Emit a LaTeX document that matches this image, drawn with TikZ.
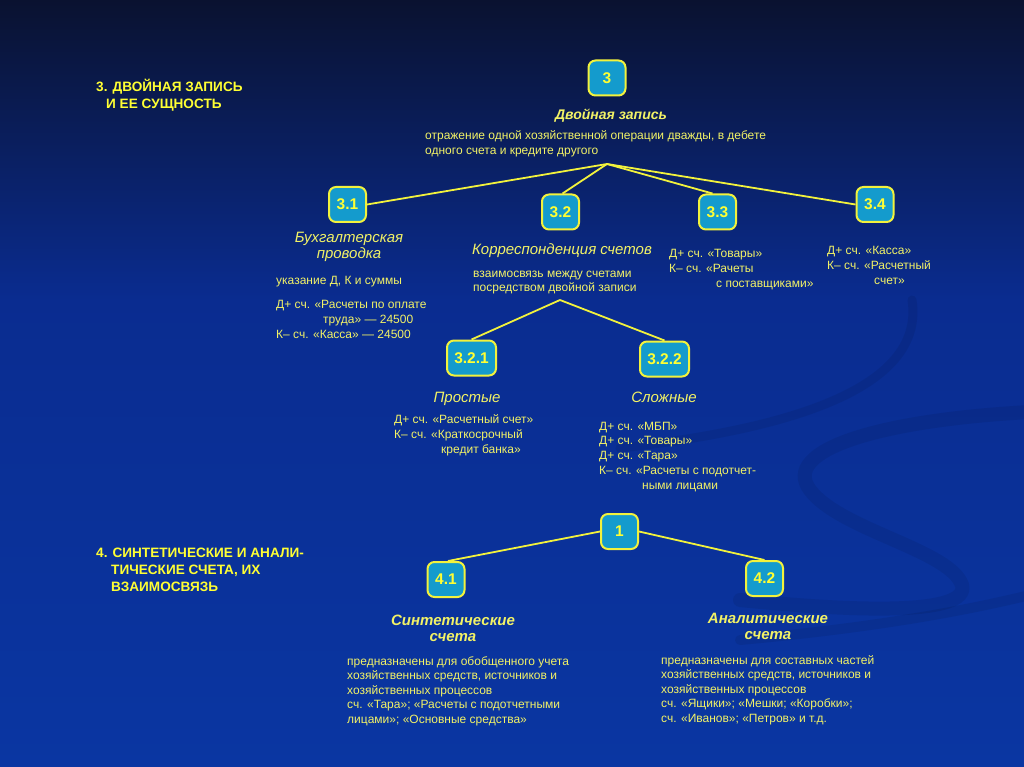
\documentclass[tikz,border=0pt]{standalone}
\usepackage{fontspec}
\setmainfont{Liberation Sans}
\definecolor{bgtop}{HTML}{0A1230}
\definecolor{bgmid}{HTML}{0A2C90}
\definecolor{bgbot}{HTML}{0A36A2}
\definecolor{boxfill}{HTML}{149BCD}
\definecolor{boxline}{HTML}{F2F23C}
\definecolor{ytitle}{HTML}{FFFF33}
\definecolor{ytext}{HTML}{F2F266}
\tikzset{
 numbox/.style={draw=boxline, fill=boxfill, line width=2pt, rounded corners=7pt, minimum width=37pt, minimum height=35pt, inner sep=0pt, text=ytitle, font=\fontsize{15.5}{15.5}\selectfont\bfseries},
 widebox/.style={numbox, minimum width=49pt},
 body/.style={anchor=base west, inner sep=0pt, text=ytext, align=left, font=\fontsize{12}{15}\selectfont},
 bodyb/.style={body, font=\fontsize{12}{14.5}\selectfont},
 head/.style={anchor=base, inner sep=0pt, text=ytext, align=center, font=\fontsize{15}{16.5}\selectfont\itshape},
 bhead/.style={head, font=\fontsize{15}{16}\selectfont\bfseries\itshape},
 title/.style={anchor=base west, inner sep=0pt, text=ytitle, align=left, font=\fontsize{13.6}{17}\selectfont\bfseries},
 link/.style={draw=boxline, line width=1.8pt},
 swoosh/.style={draw=black, opacity=0.07, line cap=round},
}
\begin{document}
\begin{tikzpicture}[x=1pt,y=-1pt]
\useasboundingbox (0,0) rectangle (1024,767);
% background
\shade[top color=bgtop, bottom color=bgmid] (0,0) rectangle (1024,300);
\shade[top color=bgmid, bottom color=bgbot] (0,299.5) rectangle (1024,767);
\draw[swoosh, line width=9pt] (620,448) .. controls (800,428) and (925,385) .. (912,300);
\draw[swoosh, line width=14pt] (1030,412) .. controls (880,420) and (780,450) .. (810,490) .. controls (840,530) and (950,550) .. (962,585) .. controls (970,615) and (860,612) .. (740,600);
\draw[swoosh, line width=10pt] (740,640) .. controls (870,628) and (960,612) .. (1030,595);

% titles
\node[title] (t3) at (96,109) {3. ДВОЙНАЯ ЗАПИСЬ\\\hspace*{10pt}И ЕЕ СУЩНОСТЬ};
\node[title] (t4) at (96,591) {4. СИНТЕТИЧЕСКИЕ И АНАЛИ-\\\hspace*{15pt}ТИЧЕСКИЕ СЧЕТА, ИХ\\\hspace*{15pt}ВЗАИМОСВЯЗЬ};

% boxes
\node[numbox] (n3) at (607,78) {3};
\node[numbox] (n31) at (347.5,204.5) {3.1};
\node[numbox] (n32) at (560.5,212) {3.2};
\node[numbox] (n33) at (717.5,212) {3.3};
\node[numbox] (n34) at (875,204.5) {3.4};
\node[widebox] (n321) at (471.5,358) {3.2.1};
\node[widebox] (n322) at (664.5,359) {3.2.2};
\node[numbox] (n1) at (619.5,531.5) {1};
\node[numbox] (n41) at (446,579.5) {4.1};
\node[numbox] (n42) at (764.5,578.5) {4.2};

% texts
\node[bhead, font=\fontsize{14}{16}\selectfont\bfseries\itshape] (h3) at (611,120) {Двойная запись};
\node[body] (b3) at (425,155) {отражение одной хозяйственной операции дважды, в дебете\\одного счета и кредите другого};

\node[head] (h31) at (349,258.5) {Бухгалтерская\\проводка};
\node[body] (b31a) at (276,284) {указание Д, К и суммы};
\node[body] (b31b) at (276,338.5) {Д+ сч. «Расчеты по оплате\\\hspace*{47pt}труда» — 24500\\К– сч. «Касса» — 24500};

\node[head] (h32) at (562,254) {Корреспонденция счетов};
\node[body, font=\fontsize{12}{14}\selectfont] (b32) at (473,291) {взаимосвязь между счетами\\посредством двойной записи};

\node[body] (b33) at (669,287.5) {Д+ сч. «Товары»\\К– сч. «Рачеты\\\hspace*{47pt}с поставщиками»};
\node[body] (b34) at (827,284) {Д+ сч. «Касса»\\К– сч. «Расчетный\\\hspace*{47pt}счет»};

\node[head] (h321) at (467,402) {Простые};
\node[head] (h322) at (664,402) {Сложные};
\node[body] (b321) at (394,453.5) {Д+ сч. «Расчетный счет»\\К– сч. «Краткосрочный\\\hspace*{47pt}кредит банка»};
\node[body, font=\fontsize{12}{14.8}\selectfont] (b322) at (599,489.2) {Д+ сч. «МБП»\\Д+ сч. «Товары»\\Д+ сч. «Тара»\\К– сч. «Расчеты с подотчет-\\\hspace*{43pt}ными лицами};

\node[bhead] (h41) at (453,641) {Синтетические\\счета};
\node[bhead] (h42) at (768,639) {Аналитические\\счета};
\node[bodyb] (b41) at (347,723) {предназначены для обобщенного учета\\хозяйственных средств, источников и\\хозяйственных процессов\\сч. «Тара»; «Расчеты с подотчетными\\лицами»; «Основные средства»};
\node[bodyb] (b42) at (661,722) {предназначены для составных частей\\хозяйственных средств, источников и\\хозяйственных процессов\\сч. «Ящики»; «Мешки; «Коробки»;\\сч. «Иванов»; «Петров» и т.д.};

% connectors
\coordinate (j3) at (607,164);
\coordinate (j32) at (560,300);
\draw[link] (j3) -- (n31.east);
\draw[link] (j3) -- ([xshift=2pt]n32.north);
\draw[link] (j3) -- ([xshift=-5pt]n33.north);
\draw[link] (j3) -- (n34.west);
\draw[link] (j32) -- (n321.north);
\draw[link] (j32) -- (n322.north);
\draw[link] (n1.west) -- ([xshift=2pt]n41.north);
\draw[link] (n1.east) -- (n42.north);
\end{tikzpicture}
\end{document}
